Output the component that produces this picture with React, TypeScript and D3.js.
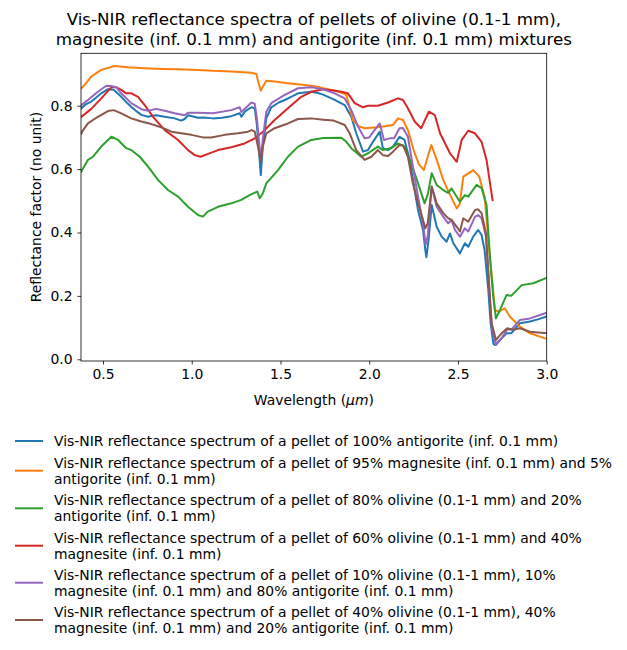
import React, { useEffect, useRef } from 'react';
import * as d3 from 'd3';

// wavelength (µm), reflectance factor
const antigorite: [number, number][] = [[0.378,0.792],[0.405,0.805],[0.434,0.813],[0.46,0.825],[0.49,0.839],[0.528,0.852],[0.56,0.85],[0.603,0.828],[0.63,0.812],[0.659,0.797],[0.69,0.782],[0.716,0.771],[0.754,0.765],[0.78,0.768],[0.8,0.77],[0.848,0.765],[0.904,0.76],[0.94,0.753],[0.96,0.758],[0.98,0.77],[1.035,0.762],[1.063,0.763],[1.12,0.76],[1.17,0.762],[1.223,0.767],[1.27,0.776],[1.28,0.765],[1.3,0.782],[1.336,0.795],[1.355,0.792],[1.366,0.744],[1.38,0.65],[1.389,0.581],[1.4,0.67],[1.42,0.76],[1.448,0.795],[1.49,0.81],[1.524,0.818],[1.56,0.828],[1.599,0.839],[1.674,0.844],[1.711,0.84],[1.74,0.835],[1.8,0.82],[1.862,0.802],[1.899,0.765],[1.927,0.713],[1.965,0.655],[1.993,0.66],[2.021,0.686],[2.059,0.718],[2.077,0.666],[2.106,0.66],[2.134,0.671],[2.171,0.702],[2.199,0.692],[2.228,0.629],[2.256,0.534],[2.275,0.471],[2.303,0.408],[2.316,0.345],[2.322,0.322],[2.335,0.38],[2.352,0.487],[2.38,0.418],[2.408,0.387],[2.436,0.371],[2.455,0.397],[2.474,0.366],[2.511,0.334],[2.539,0.366],[2.558,0.355],[2.586,0.387],[2.614,0.408],[2.633,0.392],[2.65,0.345],[2.671,0.219],[2.684,0.114],[2.699,0.05],[2.708,0.045],[2.736,0.061],[2.774,0.082],[2.8,0.082],[2.849,0.114],[2.906,0.119],[2.95,0.126],[3.0,0.135]];

const magnesite95: [number, number][] = [[0.378,0.855],[0.4,0.868],[0.434,0.892],[0.46,0.902],[0.49,0.913],[0.565,0.925],[0.64,0.921],[0.735,0.918],[0.83,0.916],[0.923,0.915],[1.035,0.913],[1.12,0.91],[1.223,0.908],[1.336,0.904],[1.364,0.9],[1.377,0.871],[1.389,0.847],[1.4,0.86],[1.42,0.879],[1.467,0.876],[1.542,0.871],[1.636,0.865],[1.711,0.86],[1.74,0.855],[1.8,0.848],[1.85,0.84],[1.871,0.834],[1.908,0.755],[1.94,0.735],[1.974,0.729],[2.05,0.732],[2.134,0.739],[2.162,0.76],[2.19,0.755],[2.22,0.72],[2.25,0.66],[2.28,0.615],[2.308,0.597],[2.33,0.64],[2.35,0.676],[2.38,0.63],[2.417,0.566],[2.45,0.525],[2.493,0.476],[2.51,0.49],[2.53,0.576],[2.586,0.597],[2.62,0.576],[2.65,0.513],[2.68,0.324],[2.708,0.156],[2.73,0.15],[2.764,0.161],[2.793,0.134],[2.849,0.103],[2.906,0.082],[2.99,0.066],[3.0,0.065]];

const olivine80: [number, number][] = [[0.378,0.592],[0.382,0.597],[0.415,0.629],[0.444,0.639],[0.49,0.671],[0.547,0.702],[0.585,0.692],[0.631,0.666],[0.659,0.66],[0.707,0.639],[0.754,0.608],[0.81,0.566],[0.866,0.534],[0.923,0.513],[0.979,0.481],[1.035,0.455],[1.063,0.45],[1.09,0.466],[1.148,0.481],[1.223,0.492],[1.279,0.503],[1.326,0.518],[1.369,0.529],[1.383,0.508],[1.401,0.524],[1.42,0.555],[1.486,0.597],[1.542,0.639],[1.599,0.671],[1.674,0.692],[1.74,0.698],[1.843,0.699],[1.871,0.686],[1.899,0.666],[1.955,0.639],[1.993,0.65],[2.049,0.671],[2.077,0.66],[2.124,0.666],[2.162,0.681],[2.199,0.671],[2.237,0.618],[2.275,0.555],[2.312,0.492],[2.33,0.52],[2.352,0.587],[2.38,0.55],[2.417,0.534],[2.445,0.525],[2.464,0.539],[2.493,0.513],[2.511,0.497],[2.539,0.518],[2.558,0.513],[2.605,0.55],[2.633,0.54],[2.661,0.487],[2.68,0.324],[2.699,0.197],[2.714,0.129],[2.737,0.156],[2.774,0.203],[2.8,0.2],[2.859,0.234],[2.924,0.24],[3.0,0.257]];

const olivine60: [number, number][] = [[0.378,0.765],[0.434,0.79],[0.49,0.823],[0.547,0.858],[0.575,0.858],[0.603,0.85],[0.631,0.839],[0.66,0.839],[0.697,0.828],[0.735,0.802],[0.782,0.765],[0.848,0.723],[0.923,0.692],[0.979,0.66],[1.017,0.644],[1.05,0.639],[1.092,0.648],[1.148,0.66],[1.223,0.669],[1.298,0.681],[1.355,0.697],[1.401,0.718],[1.467,0.755],[1.542,0.792],[1.617,0.828],[1.674,0.844],[1.74,0.852],[1.8,0.848],[1.843,0.844],[1.88,0.839],[1.918,0.808],[1.965,0.795],[1.993,0.8],[2.049,0.8],[2.106,0.81],[2.162,0.823],[2.19,0.818],[2.218,0.792],[2.256,0.75],[2.293,0.729],[2.31,0.75],[2.336,0.781],[2.37,0.77],[2.399,0.713],[2.455,0.65],[2.493,0.623],[2.521,0.692],[2.558,0.721],[2.596,0.713],[2.633,0.686],[2.661,0.629],[2.695,0.502]];

const antigorite80: [number, number][] = [[0.378,0.802],[0.415,0.818],[0.471,0.844],[0.519,0.863],[0.545,0.862],[0.575,0.858],[0.603,0.839],[0.659,0.808],[0.716,0.789],[0.754,0.784],[0.8,0.79],[0.848,0.784],[0.904,0.776],[0.96,0.77],[0.98,0.778],[1.035,0.778],[1.12,0.776],[1.223,0.786],[1.27,0.795],[1.28,0.78],[1.336,0.81],[1.355,0.806],[1.366,0.765],[1.38,0.681],[1.389,0.629],[1.4,0.692],[1.42,0.781],[1.448,0.808],[1.524,0.834],[1.599,0.855],[1.674,0.858],[1.74,0.852],[1.805,0.839],[1.862,0.823],[1.899,0.786],[1.937,0.734],[1.974,0.697],[2.0,0.7],[2.03,0.723],[2.059,0.744],[2.083,0.692],[2.115,0.697],[2.14,0.697],[2.171,0.729],[2.19,0.73],[2.218,0.702],[2.246,0.608],[2.275,0.513],[2.303,0.429],[2.318,0.362],[2.33,0.39],[2.352,0.545],[2.38,0.481],[2.417,0.45],[2.445,0.429],[2.464,0.44],[2.483,0.408],[2.511,0.387],[2.539,0.413],[2.558,0.403],[2.596,0.45],[2.614,0.455],[2.633,0.445],[2.658,0.387],[2.677,0.219],[2.69,0.103],[2.714,0.045],[2.746,0.066],[2.778,0.095],[2.8,0.093],[2.849,0.124],[2.906,0.129],[3.0,0.147]];

const olivine40: [number, number][] = [[0.378,0.712],[0.382,0.718],[0.415,0.744],[0.471,0.765],[0.528,0.783],[0.56,0.786],[0.603,0.776],[0.659,0.76],[0.716,0.75],[0.772,0.742],[0.828,0.732],[0.885,0.718],[0.94,0.713],[0.998,0.708],[1.063,0.7],[1.11,0.7],[1.186,0.708],[1.261,0.713],[1.317,0.718],[1.336,0.723],[1.355,0.718],[1.373,0.671],[1.389,0.624],[1.4,0.67],[1.42,0.713],[1.467,0.729],[1.542,0.744],[1.599,0.758],[1.674,0.76],[1.74,0.756],[1.8,0.753],[1.862,0.739],[1.89,0.713],[1.927,0.66],[1.974,0.629],[2.012,0.639],[2.049,0.66],[2.077,0.644],[2.106,0.641],[2.134,0.655],[2.171,0.676],[2.19,0.675],[2.218,0.639],[2.246,0.555],[2.275,0.492],[2.303,0.44],[2.316,0.413],[2.33,0.43],[2.352,0.545],[2.38,0.492],[2.417,0.461],[2.445,0.445],[2.464,0.44],[2.493,0.418],[2.511,0.403],[2.53,0.445],[2.558,0.434],[2.596,0.471],[2.614,0.473],[2.633,0.461],[2.658,0.397],[2.677,0.219],[2.69,0.114],[2.714,0.061],[2.746,0.082],[2.778,0.098],[2.81,0.093],[2.849,0.098],[2.906,0.087],[3.0,0.082]];

const seriesData = [antigorite, magnesite95, olivine80, olivine60, antigorite80, olivine40];
const colors = ['#1f77b4', '#ff7f0e', '#2ca02c', '#d62728', '#9467bd', '#8c564b'];
const legendLabels: string[][] = [
  ['Vis-NIR reflectance spectrum of a pellet of 100% antigorite (inf. 0.1 mm)'],
  ['Vis-NIR reflectance spectrum of a pellet of 95% magnesite (inf. 0.1 mm) and 5%', 'antigorite (inf. 0.1 mm)'],
  ['Vis-NIR reflectance spectrum of a pellet of 80% olivine (0.1-1 mm) and 20%', 'antigorite (inf. 0.1 mm)'],
  ['Vis-NIR reflectance spectrum of a pellet of 60% olivine (0.1-1 mm) and 40%', 'magnesite (inf. 0.1 mm)'],
  ['Vis-NIR reflectance spectrum of a pellet of 10% olivine (0.1-1 mm), 10%', 'magnesite (inf. 0.1 mm) and 80% antigorite (inf. 0.1 mm)'],
  ['Vis-NIR reflectance spectrum of a pellet of 40% olivine (0.1-1 mm), 40%', 'magnesite (inf. 0.1 mm) and 20% antigorite (inf. 0.1 mm)'],
];
const titleLines = ['Vis-NIR reflectance spectra of pellets of olivine (0.1-1 mm),', 'magnesite (inf. 0.1 mm) and antigorite (inf. 0.1 mm) mixtures'];
const xTicks = [0.5, 1.0, 1.5, 2.0, 2.5, 3.0];
const yTicks = [0.0, 0.2, 0.4, 0.6, 0.8];

const FONT = 'DejaVu Sans, sans-serif';

const App = () => {
  const ref = useRef<SVGSVGElement | null>(null);

  useEffect(() => {
    if (!ref.current) return;
    const svg = d3.select(ref.current);
    svg.selectAll('*').remove();

    const left = 81, right = 546.7, top = 53.3, bottom = 361;
    const x = d3.scaleLinear().domain([0.376, 3.0]).range([left, right]);
    const y = d3.scaleLinear().domain([-0.0054, 0.9653]).range([bottom, top]);

    svg.append('defs').append('clipPath').attr('id', 'plotclip')
      .append('rect').attr('x', left).attr('y', top).attr('width', right - left).attr('height', bottom - top);

    // lines
    const line = d3.line<[number, number]>().x(d => x(d[0])).y(d => y(d[1]));
    const g = svg.append('g').attr('clip-path', 'url(#plotclip)');
    seriesData.forEach((s, i) => {
      g.append('path').attr('d', line(s)!).attr('fill', 'none')
        .attr('stroke', colors[i]).attr('stroke-width', 2)
        .attr('stroke-linejoin', 'round').attr('stroke-linecap', 'square');
    });

    // axes
    const xAxis = d3.axisBottom(x).tickValues(xTicks).tickFormat(d3.format('.1f')).tickSizeOuter(0).tickSize(3.5).tickPadding(4.9);
    const yAxis = d3.axisLeft(y).tickValues(yTicks).tickFormat(d3.format('.1f')).tickSizeOuter(0).tickSize(3.5).tickPadding(4.9);
    const gx = svg.append('g').attr('transform', `translate(0,${bottom})`).call(xAxis);
    const gy = svg.append('g').attr('transform', `translate(${left},0)`).call(yAxis);
    [gx, gy].forEach(a => {
      a.select('.domain').remove();
      a.selectAll('line').attr('stroke', '#000').attr('stroke-width', 0.8);
      a.selectAll('text').attr('font-family', FONT).attr('font-size', 13.9).attr('fill', '#000');
    });

    svg.append('rect').attr('x', left).attr('y', top).attr('width', right - left).attr('height', bottom - top)
      .attr('fill', 'none').attr('stroke', '#000').attr('stroke-width', 0.8);

    // labels
    const xl = svg.append('text').attr('x', (left + right) / 2).attr('y', 404.5)
      .attr('text-anchor', 'middle').attr('font-family', FONT).attr('font-size', 13.9);
    xl.append('tspan').text('Wavelength (');
    xl.append('tspan').attr('font-style', 'italic').text('μm');
    xl.append('tspan').text(')');

    svg.append('text').attr('transform', `translate(40.5,${(top + bottom) / 2}) rotate(-90)`)
      .attr('text-anchor', 'middle').attr('font-family', FONT).attr('font-size', 13.9)
      .text('Reflectance factor (no unit)');

    titleLines.forEach((t, i) => {
      svg.append('text').attr('x', (left + right) / 2).attr('y', 25 + i * 20)
        .attr('text-anchor', 'middle').attr('font-family', FONT).attr('font-size', 16.7).text(t);
    });

    // legend
    const centers = [441, 470.7, 508.3, 545.7, 582.7, 620];
    legendLabels.forEach((lines, i) => {
      const c = centers[i];
      svg.append('line').attr('x1', 15).attr('x2', 43).attr('y1', c).attr('y2', c)
        .attr('stroke', colors[i]).attr('stroke-width', 2);
      lines.forEach((t, j) => {
        const cy = lines.length === 1 ? c : c + (j === 0 ? -8.1 : 8.1);
        svg.append('text').attr('x', 54).attr('y', cy + 5)
          .attr('font-family', FONT).attr('font-size', 13.9).text(t);
      });
    });
  }, []);

  return (
    <svg ref={ref} width={627} height={650} style={{ position: 'absolute', left: 0, top: 0, background: '#fff' }} />
  );
};

export default App;
